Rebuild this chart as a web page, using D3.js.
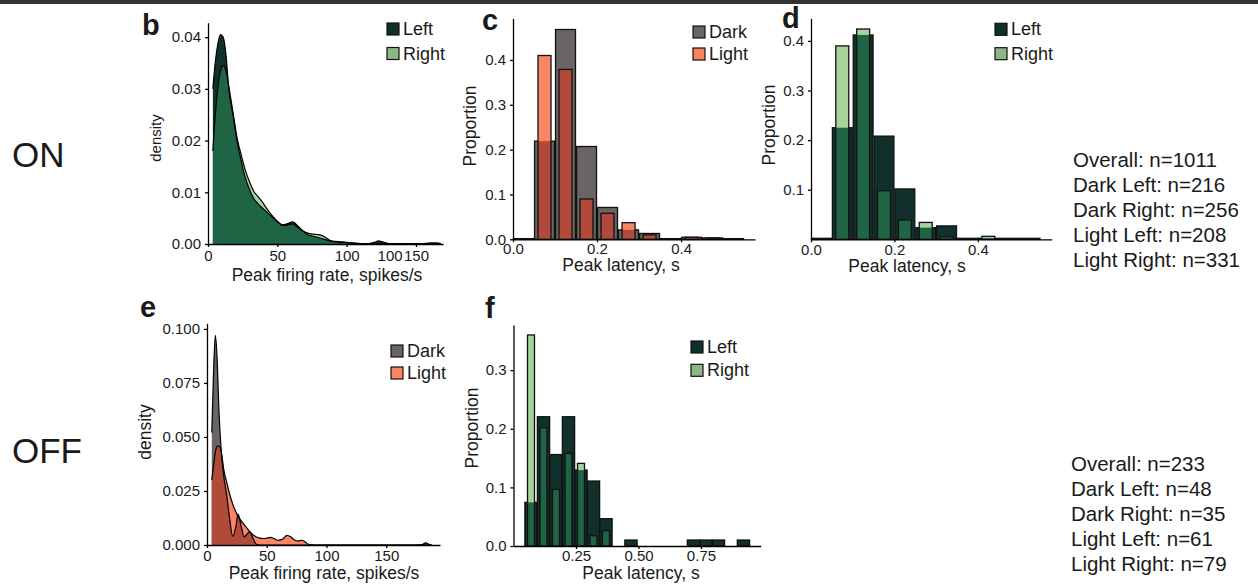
<!DOCTYPE html>
<html>
<head>
<meta charset="utf-8">
<script src="https://cdn.jsdelivr.net/npm/d3@7"></script>
<style>
body { margin: 0; background: #fff; }
svg { display: block; font-family: "Liberation Sans", Arial, Helvetica, sans-serif; }
.axis path, .axis line { stroke: #000; stroke-width: 1.3; }
.axis text { font-size: 15px; fill: #1a1a1a; font-family: "Liberation Sans", Arial, sans-serif; }
</style>
</head>
<body>
<script>

/* ---------- ON row ---------- */

// b: density of peak firing rate, Left vs Right
var bRate  = [3.5, 5, 7, 9, 11, 13, 15, 18, 21, 24, 27, 30, 33, 36, 39, 42, 46, 50, 54, 58, 61, 64, 68, 72, 76, 80, 84, 88, 92, 97, 103, 110, 116, 120, 123, 126, 130, 136, 145, 155, 161, 165, 168];
var bLeft  = [0.0300, 0.0345, 0.0385, 0.0405, 0.0400, 0.0365, 0.0300, 0.0250, 0.0198, 0.0160, 0.0128, 0.0105, 0.0088, 0.0078, 0.0070, 0.0063, 0.0053, 0.0043, 0.0037, 0.0040, 0.0043, 0.0037, 0.0026, 0.0018, 0.0015, 0.0012, 0.0009, 0.0006, 0.0005, 0.0004, 0.0002, 0.0001, 0.0001, 0.0003, 0.0006, 0.0004, 0.0001, 0.0000, 0.0000, 0.0001, 0.0002, 0.0002, 0.0001];
var bRight = [0.0180, 0.0240, 0.0300, 0.0335, 0.0345, 0.0335, 0.0305, 0.0255, 0.0205, 0.0172, 0.0142, 0.0120, 0.0102, 0.0092, 0.0082, 0.0070, 0.0056, 0.0044, 0.0036, 0.0037, 0.0039, 0.0034, 0.0026, 0.0021, 0.0019, 0.0018, 0.0014, 0.0007, 0.0004, 0.0003, 0.0002, 0.0001, 0.0001, 0.0001, 0.0001, 0.0001, 0.0001, 0.0001, 0.0001, 0.0001, 0.0001, 0.0001, 0.0001];
var bTicksX = [0, 50, 100, 150];
var bGhostTick = [131];          // stray "100" label overlapping the 150 tick
var bTicksY = [0, 0.01, 0.02, 0.03, 0.04];

// c, d: peak latency histograms (bin centres, width 0.05)
var latBins = [0.025, 0.075, 0.125, 0.175, 0.225, 0.275, 0.325, 0.375, 0.425, 0.475, 0.525];
var cDark   = [0.0015, 0.219, 0.468, 0.207, 0.071, 0.021, 0.013, 0.0015, 0.0045, 0.003, 0.0015];
var cLight  = [0, 0.41, 0.379, 0.090, 0.058, 0.037, 0.010, 0, 0.0045, 0.003, 0];
var dLeft   = [0.002, 0.225, 0.412, 0.208, 0.1015, 0.0235, 0.027, 0.002, 0.002, 0.002, 0.002];
var dRight  = [0, 0.390, 0.424, 0.098, 0.039, 0.034, 0.005, 0, 0.006, 0, 0];
var latTicksX = [0, 0.2, 0.4];
var cTicksY = [0, 0.1, 0.2, 0.3, 0.4];
var dTicksY = [0.1, 0.2, 0.3, 0.4];

/* ---------- OFF row ---------- */

// e: density of peak firing rate, Dark vs Light
var eRate  = [4, 5.5, 7, 8.5, 10, 12, 14, 16.5, 19, 21.5, 24, 26, 28.5, 31, 33.5, 36, 38.5, 41, 44, 47.5, 50, 53, 56, 59, 63, 67, 70, 73, 76, 79.5, 82, 85, 90, 100, 120, 150, 175, 180, 183, 186, 188];
var eDark  = [0.052, 0.080, 0.097, 0.086, 0.062, 0.043, 0.032, 0.023, 0.012, 0.004, 0.008, 0.0143, 0.009, 0.0038, 0.005, 0.0062, 0.003, 0.0005, 0, 0, 0, 0, 0, 0, 0, 0, 0, 0, 0, 0, 0, 0, 0, 0, 0, 0, 0, 0.0002, 0.001, 0.0003, 0];
var eLight = [0.030, 0.037, 0.043, 0.0458, 0.0458, 0.043, 0.035, 0.029, 0.0235, 0.019, 0.0155, 0.0132, 0.0113, 0.0095, 0.0078, 0.006, 0.0047, 0.0038, 0.0032, 0.003, 0.0032, 0.0035, 0.003, 0.0022, 0.0026, 0.0045, 0.0038, 0.0024, 0.0018, 0.0022, 0.0015, 0.0003, 0, 0, 0, 0, 0, 0, 0, 0, 0];
var eTicksX = [0, 50, 100, 150];
var eTicksY = [0, 0.025, 0.05, 0.075, 0.1];

// f: peak latency histogram, Left vs Right
var fBins  = [0.07, 0.12, 0.17, 0.22, 0.27, 0.32, 0.37, 0.42, 0.47, 0.52, 0.57, 0.62, 0.67, 0.72, 0.77, 0.82, 0.87, 0.92];
var fLeft  = [0.0744, 0.2205, 0.156, 0.2205, 0.1295, 0.1108, 0.0466, 0, 0.0102, 0, 0, 0, 0, 0.0102, 0.0102, 0.0102, 0, 0.0102];
var fRight = [0.360, 0.2017, 0.0966, 0.158, 0.141, 0.0176, 0.0261, 0, 0, 0, 0, 0, 0, 0, 0, 0, 0, 0];
var fTicksX = [0.25, 0.5, 0.75];
var fTicksY = [0, 0.1, 0.2, 0.3];

var statsOn  = ["Overall: n=1011", "Dark Left: n=216", "Dark Right: n=256", "Light Left: n=208", "Light Right: n=331"];
var statsOff = ["Overall: n=233", "Dark Left: n=48", "Dark Right: n=35", "Light Left: n=61", "Light Right: n=79"];

// colours: a = first group, b = second group, both = where they overlap
var greens = {a: "#12302b", b: "#a6d39b", both: "#1f6545", keyA: "#12302b", keyB: "#8fb689"};
var warms  = {a: "#6a6464", b: "#f98565", both: "#b04a3b", keyA: "#6a6464", keyB: "#f98462"};


var svg = d3.select("body").append("svg")
    .attr("width", 1258)
    .attr("height", 585);

// rule along the top of the figure
svg.append("rect")
    .attr("x", 0).attr("y", 0)
    .attr("width", 1258).attr("height", 4)
    .attr("fill", "#333");


function label(x, y, str, size, opts) {
    opts = opts || {};
    var t = svg.append("text")
        .attr("x", x)
        .attr("y", y)
        .attr("font-size", size + "px")
        .attr("fill", "#1a1a1a")
        .attr("text-anchor", opts.anchor || "start")
        .attr("font-weight", opts.bold ? "bold" : "normal")
        .text(str);
    if (opts.rotate) t.attr("transform", "rotate(-90," + x + "," + y + ")");
    return t;
}

function drawAxes(x, y, xt, xf, yt, yf, xpad) {
    svg.append("g")
        .attr("class", "axis")
        .attr("transform", "translate(0," + y.range()[0] + ")")
        .call(d3.axisBottom(x).tickValues(xt).tickFormat(xf).tickSize(3).tickSizeOuter(0).tickPadding(xpad));
    svg.append("g")
        .attr("class", "axis")
        .attr("transform", "translate(" + x.range()[0] + ",0)")
        .call(d3.axisLeft(y).tickValues(yt).tickFormat(yf).tickSize(3).tickSizeOuter(0).tickPadding(4));
}

function densityPanel(x, y, grid, a, b, pal) {
    var area = d3.area().curve(d3.curveMonotoneX)
        .x(function(d) { return x(d[0]); })
        .y0(y(0))
        .y1(function(d) { return y(d[1]); });
    var line = d3.line().curve(d3.curveMonotoneX)
        .x(function(d) { return x(d[0]); })
        .y(function(d) { return y(d[1]); });

    var A  = grid.map(function(v, i) { return [v, a[i]]; }),
        B  = grid.map(function(v, i) { return [v, b[i]]; }),
        AB = grid.map(function(v, i) { return [v, Math.min(a[i], b[i])]; });

    var g = svg.append("g");
    g.append("path").datum(A).attr("d", area).attr("fill", pal.a);
    g.append("path").datum(B).attr("d", area).attr("fill", pal.b);
    g.append("path").datum(AB).attr("d", area).attr("fill", pal.both);
    [A, B].forEach(function(s) {
        g.append("path").datum(s).attr("d", line)
            .attr("fill", "none").attr("stroke", "#000").attr("stroke-width", 1.2);
    });
}

function barPanel(x, y, bins, binW, a, b, pal, fa, fb) {
    var rows = bins.map(function(c, i) { return {c: c, a: a[i], b: b[i]}; });
    var g = svg.append("g");

    function bars(sel, key, frac, fill, stroke) {
        g.selectAll(sel)
            .data(rows.filter(function(d) { return d[key] > 0; }))
            .enter().append("rect")
            .attr("x", function(d) { return x(d.c - binW * frac / 2); })
            .attr("width", function(d) { return x(d.c + binW * frac / 2) - x(d.c - binW * frac / 2); })
            .attr("y", function(d) { return y(d[key]); })
            .attr("height", function(d) { return y(0) - y(d[key]); })
            .attr("fill", fill)
            .attr("stroke", stroke)
            .attr("stroke-width", 1.3);
    }

    rows.forEach(function(d) { d.m = Math.min(d.a, d.b); });

    bars("rect.a", "a", fa, pal.a, "#111");
    bars("rect.b", "b", fb, pal.b, "none");
    bars("rect.m", "m", fb, pal.both, "none");
    bars("rect.bo", "b", fb, "none", "#111");
}

function legend(x0, y0, step, names, fills) {
    names.forEach(function(n, i) {
        svg.append("rect")
            .attr("x", x0).attr("y", y0 + i * step)
            .attr("width", 12).attr("height", 12)
            .attr("fill", fills[i])
            .attr("stroke", "#111").attr("stroke-width", 1.2);
        label(x0 + 16, y0 + i * step + 12, n, 18);
    });
}

var f1 = d3.format(".1f"), f2 = d3.format(".2f"), f3 = d3.format(".3f"), f0 = d3.format("d");


/* ---- b ---- */
var bx = d3.scaleLinear().domain([0, 169.5]).range([208, 443]);
var by = d3.scaleLinear().domain([0, 0.0428]).range([244, 22.7]);
densityPanel(bx, by, bRate, bLeft, bRight, greens);
drawAxes(bx, by, bTicksX, f0, bTicksY, f2, 3);
svg.append("g")
    .attr("class", "axis ghost")
    .attr("transform", "translate(0," + by.range()[0] + ")")
    .call(d3.axisBottom(bx).tickValues(bGhostTick).tickFormat(function() { return "100"; }).tickSize(0).tickPadding(6))
    .select(".domain").remove();
legend(387, 23, 24.5, ["Left", "Right"], [greens.keyA, greens.keyB]);
label(142, 35, "b", 29, {bold: true});
label(161, 138, "density", 15, {rotate: true, anchor: "middle"});
label(327, 281, "Peak firing rate, spikes/s", 17.5, {anchor: "middle"});

/* ---- c ---- */
var cx = d3.scaleLinear().domain([0, 0.576]).range([513, 755]);
var cy = d3.scaleLinear().domain([0, 0.493]).range([239.3, 18.3]);
barPanel(cx, cy, latBins, 0.05, cDark, cLight, warms, 0.95, 0.62);
drawAxes(cx, cy, latTicksX, f1, cTicksY, f1, 1);
legend(693, 26, 22, ["Dark", "Light"], [warms.keyA, warms.keyB]);
label(482, 30, "c", 29, {bold: true});
label(476, 126, "Proportion", 17.5, {rotate: true, anchor: "middle"});
label(621, 271, "Peak latency, s", 17.5, {anchor: "middle"});

/* ---- d ---- */
var dx = d3.scaleLinear().domain([0, 0.577]).range([811, 1051.7]);
var dy = d3.scaleLinear().domain([0, 0.4456]).range([239.3, 18.3]);
barPanel(dx, dy, latBins, 0.05, dLeft, dRight, greens, 0.95, 0.62);
drawAxes(dx, dy, latTicksX, f1, dTicksY, f1, 2);
legend(995, 23.3, 24.4, ["Left", "Right"], [greens.keyA, greens.keyB]);
label(782, 28, "d", 29, {bold: true});
label(775, 125, "Proportion", 17.5, {rotate: true, anchor: "middle"});
label(907, 271.5, "Peak latency, s", 17.5, {anchor: "middle"});

/* ---- e ---- */
var ex = d3.scaleLinear().domain([0, 195]).range([207, 440]);
var ey = d3.scaleLinear().domain([0, 0.1026]).range([545, 323.3]);
densityPanel(ex, ey, eRate, eDark, eLight, warms);
drawAxes(ex, ey, eTicksX, f0, eTicksY, f3, 2);
legend(391, 345, 22, ["Dark", "Light"], [warms.keyA, warms.keyB]);
label(140, 317, "e", 29, {bold: true});
label(151, 432, "density", 17.5, {rotate: true, anchor: "middle"});
label(324, 579, "Peak firing rate, spikes/s", 17.5, {anchor: "middle"});

/* ---- f ---- */
var fx = d3.scaleLinear().domain([0, 0.989]).range([513.5, 760.7]);
var fy = d3.scaleLinear().domain([0, 0.377]).range([546, 325]);
barPanel(fx, fy, fBins, 0.05, fLeft, fRight, greens, 0.98, 0.56);
drawAxes(fx, fy, fTicksX, f2, fTicksY, f1, 1);
legend(691, 341, 23.3, ["Left", "Right"], [greens.keyA, greens.keyB]);
label(485, 318, "f", 29, {bold: true});
label(478, 428, "Proportion", 17.5, {rotate: true, anchor: "middle"});
label(641, 578.5, "Peak latency, s", 17.5, {anchor: "middle"});

/* ---- row labels and counts ---- */
label(12, 167, "ON", 35);
label(12, 463, "OFF", 35);

statsOn.forEach(function(s, i) { label(1073, 167 + i * 25, s, 20.5); });
statsOff.forEach(function(s, i) { label(1071, 471 + i * 25, s, 20.5); });

</script>
</body>
</html>
